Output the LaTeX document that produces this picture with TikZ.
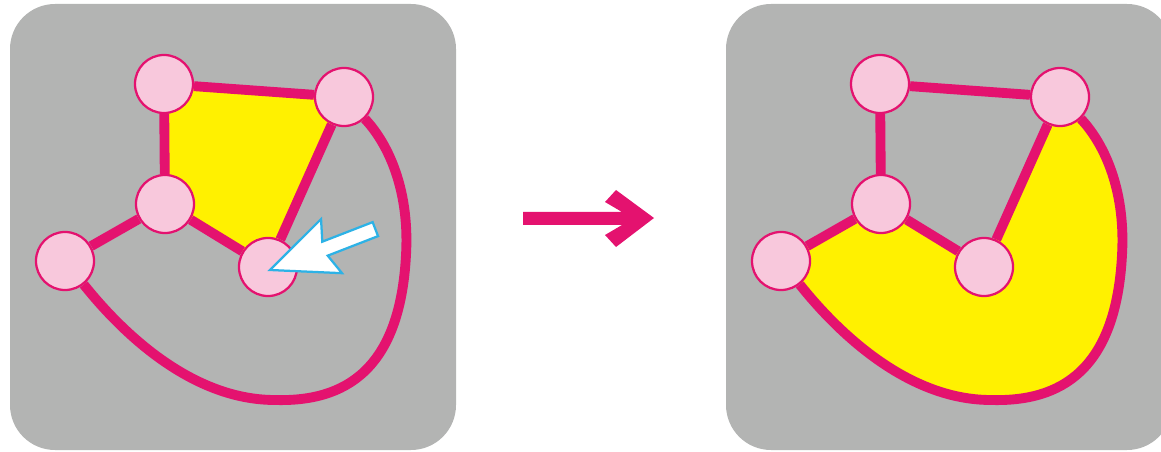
\documentclass[tikz,border=0pt]{standalone}
\pgfdeclarelayer{back}
\pgfsetlayers{back,main}
\definecolor{panelgray}{HTML}{B3B4B3}
\definecolor{ringred}{HTML}{E4126F}
\definecolor{ballpink}{HTML}{F8C8DC}
\definecolor{faceyellow}{HTML}{FFF100}
\definecolor{hintblue}{HTML}{2DB2E6}
\begin{document}
\begin{tikzpicture}[x=0.025cm,y=-0.025cm,
    ball/.style={circle,draw=ringred,fill=ballpink,line width=1.6pt,
                 minimum size=1.45cm,inner sep=0pt},
    bond/.style={ringred,line width=7pt},
    face/.style={fill=faceyellow}]
  \clip (0,0) rectangle (1161,452);
  \foreach \s/\dx in {a/0, b/716}{
    \begin{scope}[shift={(\dx,0)}]
      % the five balls of the ring
      \node[ball] (p\s) at (164,84) {};
      \node[ball] (q\s) at (344,97) {};
      \node[ball] (m\s) at (165,204) {};
      \node[ball] (l\s) at (65,261) {};
      \node[ball] (e\s) at (268,267) {};
      \begin{pgfonlayer}{back}
        \fill[panelgray,rounded corners=1.125cm] (10,4) rectangle (456,450);
      \end{pgfonlayer}
      \draw[bond] (p\s)--(q\s) (p\s)--(m\s) (m\s)--(l\s) (m\s)--(e\s)
                  (e\s)--(q\s);
      % the long bond round the bottom
      \draw[bond] (l\s) .. controls (120,330) and (190,400) .. (275,400)
                  .. controls (345,402) and (400,370) .. (406,255)
                  .. controls (410,185) and (385,140) .. (q\s);
    \end{scope}
  }
  % panel 1: the small face and the pointer
  \begin{pgfonlayer}{back}
    \fill[face] (pa.center)--(qa.center)--(ea.center)--(ma.center)--cycle;
  \end{pgfonlayer}
  \begin{scope}[shift={(270,270)},rotate=21.2]
    \draw[hintblue,fill=white,line width=1.6pt,line join=miter]
      (0,0)--(66,29)--(59,7.5)--(113,7.5)--(113,-7.5)--(59,-7.5)
      --(66,-29)--cycle;
  \end{scope}
  % panel 2: the big face
  \begin{pgfonlayer}{back}
    \begin{scope}[shift={(716,0)}]
      \fill[face] (lb.center) .. controls (120,330) and (190,400) .. (275,400)
                  .. controls (345,402) and (400,370) .. (406,255)
                  .. controls (410,185) and (385,140) .. (qb.center)
                  -- (eb.center) -- (mb.center) -- cycle;
    \end{scope}
  \end{pgfonlayer}
  % the step arrow between the panels
  \fill[ringred] (523,212)--(622,212)--(605,202)--(616,190)--(654,218)
    --(616,247)--(605,235)--(622,225)--(523,225)--cycle;
\end{tikzpicture}
\end{document}
